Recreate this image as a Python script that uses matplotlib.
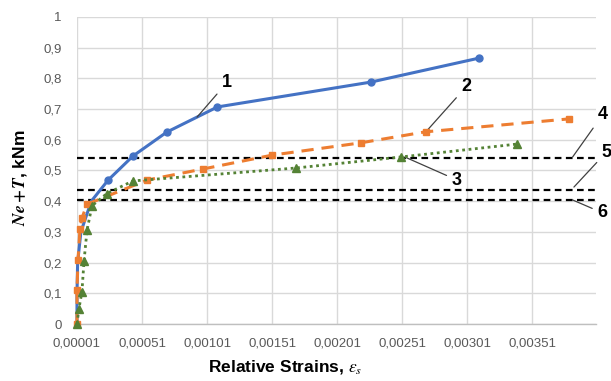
import matplotlib
matplotlib.use("Agg")
import matplotlib.pyplot as plt

plt.rcParams['font.family'] = ['Liberation Sans', 'DejaVu Sans']
plt.rcParams['mathtext.fontset'] = 'stix'

# ---- data ----
x_curve1 = [0.00001, 0.00001, 0.000015, 0.00004, 0.00012, 0.00025, 0.00044, 0.00070, 0.00109, 0.00227, 0.00310]
y_curve1 = [0.0, 0.10, 0.20, 0.30, 0.40, 0.469, 0.547, 0.625, 0.707, 0.788, 0.866]

x_curve2 = [0.00001, 0.00001, 0.000018, 0.000033, 0.000048, 0.000087, 0.00055, 0.00098, 0.00151, 0.00219, 0.00269, 0.00379]
y_curve2 = [0.0, 0.11, 0.21, 0.31, 0.345, 0.39, 0.469, 0.505, 0.55, 0.59, 0.626, 0.668]

x_curve3 = [0.00001, 0.000025, 0.000048, 0.000064, 0.000087, 0.000125, 0.00024, 0.00044, 0.00169, 0.00250, 0.00339]
y_curve3 = [0.0, 0.05, 0.105, 0.205, 0.305, 0.385, 0.425, 0.466, 0.508, 0.544, 0.586]

h_levels = [0.54, 0.437, 0.405]   # lines 4, 5, 6

x_ticks = [0.00001, 0.00051, 0.00101, 0.00151, 0.00201, 0.00251, 0.00301, 0.00351]
x_tick_labels = ['0,00001', '0,00051', '0,00101', '0,00151', '0,00201', '0,00251', '0,00301', '0,00351']
y_ticks = [0, 0.1, 0.2, 0.3, 0.4, 0.5, 0.6, 0.7, 0.8, 0.9, 1.0]
y_tick_labels = ['0', '0,1', '0,2', '0,3', '0,4', '0,5', '0,6', '0,7', '0,8', '0,9', '1']

# curve labels: (text, text position, leader end)
labels = ['1', '2', '3', '4', '5', '6']
label_text_xy = [(0.00116, 0.785), (0.00300, 0.772), (0.00293, 0.469),
                 (0.00405, 0.681), (0.00408, 0.560), (0.00405, 0.362)]
label_point_xy = [(0.000933, 0.674), (0.00269, 0.625), (0.00253, 0.544),
                  (0.00382, 0.544), (0.00383, 0.446), (0.00382, 0.404)]

# ---- figure ----
fig = plt.figure(figsize=(6.11, 3.81), dpi=100)
ax = fig.add_axes([0.126, 0.1496, 0.8495, 0.8058])

ax.set_xlim(0.00001, 0.004)
ax.set_ylim(0, 1)
ax.set_xticks(x_ticks)
ax.set_xticklabels(x_tick_labels)
ax.set_yticks(y_ticks)
ax.set_yticklabels(y_tick_labels)
ax.tick_params(axis='both', length=0, labelsize=9.5, labelcolor='#595959')
ax.tick_params(axis='y', pad=11)
ax.tick_params(axis='x', pad=10)

ax.grid(True, color='#D9D9D9', linewidth=1.0)
ax.set_axisbelow(True)
for s in ['top', 'right', 'left']:
    ax.spines[s].set_visible(False)
ax.spines['bottom'].set_color('#BFBFBF')
ax.spines['bottom'].set_linewidth(1.0)

for lv in h_levels:
    ax.axhline(lv, color='black', linewidth=1.6, linestyle=(0, (3, 2)), zorder=2)

ax.plot(x_curve1, y_curve1, color='#4472C4', linewidth=2.2, marker='o', markersize=5,
        markevery=[5, 6, 7, 8, 9, 10], zorder=3, clip_on=False)
ax.plot(x_curve2, y_curve2, color='#ED7D31', linewidth=2.2, linestyle=(0, (4, 2.6)),
        marker='s', markersize=5, zorder=4, clip_on=False)
ax.plot(x_curve3, y_curve3, color='#548235', linewidth=2.0, linestyle=(0, (1, 1.3)),
        marker='^', markersize=5.5, zorder=5, clip_on=False)

for t, txy, pxy in zip(labels, label_text_xy, label_point_xy):
    ax.annotate(t, xy=pxy, xytext=txy, textcoords='data', ha='center', va='center',
                fontsize=13, fontweight='bold', annotation_clip=False,
                arrowprops=dict(arrowstyle='-', color='#404040', linewidth=0.9,
                                shrinkA=2, shrinkB=0))

ax.set_xlabel(r'Relative Strains, $\boldsymbol{\varepsilon_s}$', fontsize=12.5, fontweight='bold')
ax.xaxis.set_label_coords(0.40, -0.14)
ax.xaxis.label.set_va('center')
ax.set_ylabel(r'$\boldsymbol{Ne+T}$, kNm', fontsize=12.5, fontweight='bold')
ax.yaxis.set_label_coords(-0.11, 0.476)
ax.yaxis.label.set_va('center')
ax.yaxis.label.set_ha('center')

fig.savefig('out.png', dpi=100)
